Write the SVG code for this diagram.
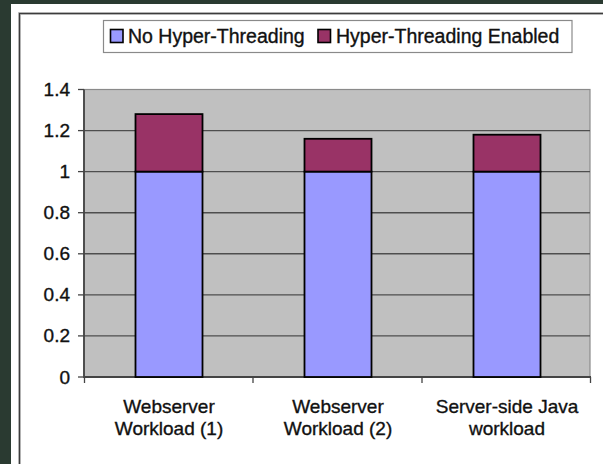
<svg xmlns="http://www.w3.org/2000/svg" width="603" height="464" viewBox="0 0 603 464">
  <style>
    text { font-family: "Liberation Sans", Arial, sans-serif; fill: #111; stroke: #111; stroke-width: 0.35px; }
    .lg { font-size: 19.5px; }
    .ax { font-size: 19px; text-anchor: end; }
    .cat { font-size: 19px; text-anchor: middle; }
    .grid { stroke: #4e4e4e; stroke-width: 1.4; }
    .tick { stroke: #444; stroke-width: 1.3; }
    .bar { stroke: #000; stroke-width: 1.8; }
    .noht { fill: #9999ff; }
    .ht { fill: #993366; }
  </style>

  <!-- page background and chart panel -->
  <rect x="0" y="0" width="603" height="464" fill="#2a3a31"/>
  <rect x="11" y="4" width="592" height="460" fill="#ffffff"/>
  <rect x="19.5" y="13.5" width="600" height="470" fill="none" stroke="#c8c8c8" stroke-width="3"/>
  <rect x="19.5" y="13.5" width="600" height="470" fill="none" stroke="#3c3c3c" stroke-width="1.3"/>

  <!-- legend -->
  <g id="legend">
    <rect x="103.5" y="20.5" width="468.5" height="32" fill="#ffffff" stroke="#8a8a8a" stroke-width="1.2"/>
    <rect class="noht" x="110.5" y="29.5" width="12.5" height="13" stroke="#000" stroke-width="1.6"/>
    <text class="lg" x="128" y="43.3">No Hyper-Threading</text>
    <rect class="ht" x="318" y="29.5" width="12.5" height="13" stroke="#000" stroke-width="1.6"/>
    <text class="lg" x="336" y="43.3">Hyper-Threading Enabled</text>
  </g>

  <!-- plot area with gridlines -->
  <g id="plot">
    <rect x="84" y="89.5" width="506" height="287.5" fill="#c0c0c0" stroke="#8a8a8a" stroke-width="1.2"/>
    <line class="grid" x1="84" y1="335.9" x2="590" y2="335.9"/>
    <line class="grid" x1="84" y1="294.9" x2="590" y2="294.9"/>
    <line class="grid" x1="84" y1="253.8" x2="590" y2="253.8"/>
    <line class="grid" x1="84" y1="212.7" x2="590" y2="212.7"/>
    <line class="grid" x1="84" y1="171.6" x2="590" y2="171.6"/>
    <line class="grid" x1="84" y1="130.6" x2="590" y2="130.6"/>
  </g>

  <!-- axes and ticks -->
  <g id="axes">
    <line x1="84" y1="89.5" x2="84" y2="378" stroke="#444" stroke-width="1.8"/>
    <line x1="84" y1="377" x2="591" y2="377" stroke="#444" stroke-width="1.8"/>
    <line class="tick" x1="78" y1="89.5" x2="84" y2="89.5"/>
    <line class="tick" x1="78" y1="130.6" x2="84" y2="130.6"/>
    <line class="tick" x1="78" y1="171.6" x2="84" y2="171.6"/>
    <line class="tick" x1="78" y1="212.7" x2="84" y2="212.7"/>
    <line class="tick" x1="78" y1="253.8" x2="84" y2="253.8"/>
    <line class="tick" x1="78" y1="294.9" x2="84" y2="294.9"/>
    <line class="tick" x1="78" y1="335.9" x2="84" y2="335.9"/>
    <line class="tick" x1="78" y1="377" x2="84" y2="377"/>
    <line class="tick" x1="84.5" y1="377" x2="84.5" y2="383"/>
    <line class="tick" x1="253" y1="377" x2="253" y2="383"/>
    <line class="tick" x1="422" y1="377" x2="422" y2="383"/>
    <line class="tick" x1="590.5" y1="377" x2="590.5" y2="383"/>
  </g>

  <!-- y axis labels -->
  <g id="y-labels">
    <text class="ax" x="70" y="96">1.4</text>
    <text class="ax" x="70" y="137.1">1.2</text>
    <text class="ax" x="70" y="178.1">1</text>
    <text class="ax" x="70" y="219.2">0.8</text>
    <text class="ax" x="70" y="260.3">0.6</text>
    <text class="ax" x="70" y="301.4">0.4</text>
    <text class="ax" x="70" y="342.4">0.2</text>
    <text class="ax" x="70" y="383.5">0</text>
  </g>

  <!-- stacked bars -->
  <g id="bar-webserver-1">
    <rect class="bar noht" x="135.5" y="171.6" width="67" height="205.4"/>
    <rect class="bar ht" x="135.5" y="114.1" width="67" height="57.5"/>
  </g>
  <g id="bar-webserver-2">
    <rect class="bar noht" x="304.5" y="171.6" width="67" height="205.4"/>
    <rect class="bar ht" x="304.5" y="138.8" width="67" height="32.8"/>
  </g>
  <g id="bar-java">
    <rect class="bar noht" x="473.5" y="171.6" width="67" height="205.4"/>
    <rect class="bar ht" x="473.5" y="134.7" width="67" height="36.9"/>
  </g>

  <!-- category labels -->
  <g id="x-labels">
    <text class="cat" x="169" y="412.5">Webserver</text>
    <text class="cat" x="169" y="435">Workload (1)</text>
    <text class="cat" x="338" y="412.5">Webserver</text>
    <text class="cat" x="338" y="435">Workload (2)</text>
    <text class="cat" x="507" y="412.5">Server-side Java</text>
    <text class="cat" x="507" y="435">workload</text>
  </g>
</svg>
